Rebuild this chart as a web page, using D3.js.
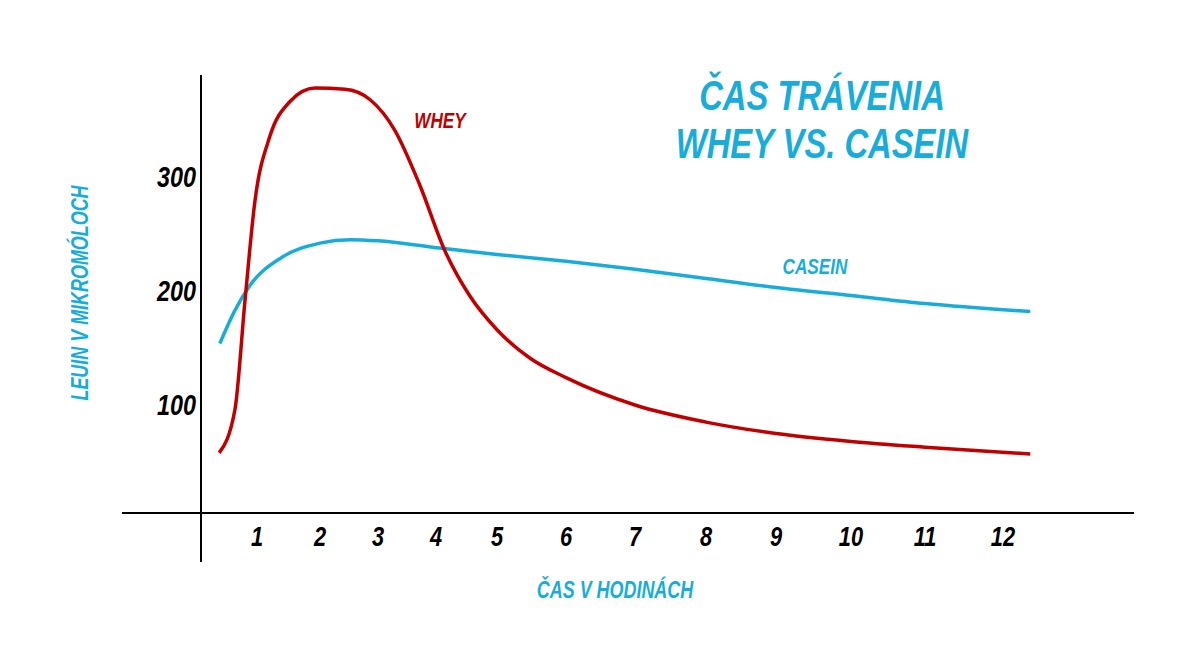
<!DOCTYPE html>
<html><head><meta charset="utf-8">
<script src="https://d3js.org/d3.v7.min.js"></script>
<style>
body{margin:0;background:#fff}
text{font-family:"Liberation Sans","Arial",sans-serif;font-weight:bold;font-style:italic}
</style></head>
<body><div id="chart"></div>
<script>
// hour ticks as drawn (spacing on the original isn't even)
hours = [1,2,3,4,5,6,7,8,9,10,11,12]
hourPos = [257,320,378,436,497,566,635,706,776,851,925,1003]
yTicks = [100,200,300]

wheyH = [0.4,0.65,0.81,0.97,1.2,1.52,1.92,2.43,2.86,3.29,3.72,4.14,4.55,5,5.48,6,7,8,9,10,11,12.35]
wheyV = [58,96,192,280,335,366,378,377,368,341,293,236,196,166,141,124,100,85,75,68,63,57]
caseinH = [0.41,0.65,0.89,1.38,2,2.52,3,4,5,6,7,8,9,10,11,12.35]
caseinV = [154,183,205,229,242,245,244,238,232,226,219,211,203,196,189,182]

width = 1200
height = 672
blue = '#18acdb'
red = '#c00000'
squeeze = 0.78

svg = d3.select('#chart').append('svg').attr('width',width).attr('height',height)

x = d3.scaleLinear().domain(hours).range(hourPos)
y = d3.scaleLinear().domain([0,300]).range([519,177])

// condensed text: scale horizontally around the anchor point
function label(px,py,size,fill,txt,anchor,rot){
  svg.append('g').attr('transform',`translate(${px},${py}) rotate(${rot||0}) scale(${squeeze},1)`)
    .append('text').attr('text-anchor',anchor||'middle')
    .attr('font-size',size).attr('fill',fill).text(txt)
}

svg.append('line').attr('x1',122).attr('x2',1134).attr('y1',513).attr('y2',513).attr('stroke','#000').attr('stroke-width',2)
svg.append('line').attr('x1',201).attr('x2',201).attr('y1',75).attr('y2',562).attr('stroke','#000').attr('stroke-width',2)

hours.forEach(d=>label(x(d),546,28,'#000',d))
yTicks.forEach(d=>label(196,y(d)+10,30,'#000',d,'end'))

line = d3.line().curve(d3.curveMonotoneX).x(d=>x(d[0])).y(d=>y(d[1]))

svg.append('path').datum(d3.zip(caseinH,caseinV)).attr('d',line)
  .attr('fill','none').attr('stroke',blue).attr('stroke-width',3.5)
svg.append('path').datum(d3.zip(wheyH,wheyV)).attr('d',line)
  .attr('fill','none').attr('stroke',red).attr('stroke-width',3.5)

label(440,128,22,red,'WHEY')
label(815,274,22,blue,'CASEIN')
label(822,110,42,blue,'ČAS TRÁVENIA')
label(822,158,42,blue,'WHEY VS. CASEIN')
label(615,598,23,blue,'ČAS V HODINÁCH')
label(88,293,23,blue,'LEUIN V MIKROMÓLOCH','middle',-90)
</script>
</body></html>
